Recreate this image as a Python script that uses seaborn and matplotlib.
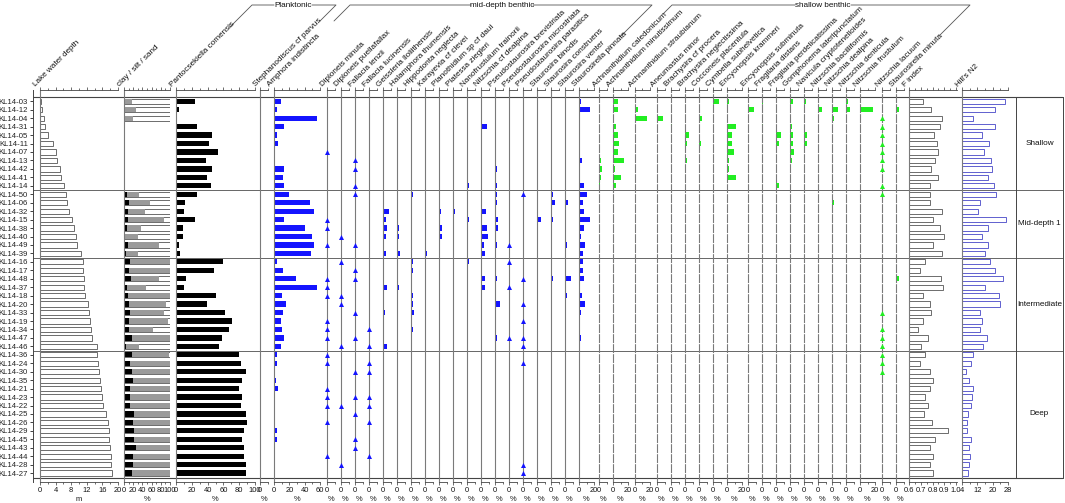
import numpy as np
import pandas as pd
import matplotlib
matplotlib.use("Agg")
import matplotlib.pyplot as plt
from matplotlib.ticker import FixedLocator, NullFormatter
import seaborn as sns

sns.set_theme(style="white")
plt.rcParams['font.family'] = ['Liberation Sans', 'DejaVu Sans']

R = -1  # taxon present at trace level (drawn as a triangle)

samples = ["KL14-03", "KL14-12", "KL14-04", "KL14-31", "KL14-05", "KL14-11", "KL14-07", "KL14-13", "KL14-42", "KL14-41", "KL14-14",
           "KL14-50", "KL14-06", "KL14-32", "KL14-15", "KL14-38", "KL14-40", "KL14-49", "KL14-39",
           "KL14-16", "KL14-17", "KL14-48", "KL14-37", "KL14-18", "KL14-20", "KL14-33", "KL14-19", "KL14-34", "KL14-47", "KL14-46",
           "KL14-36", "KL14-24", "KL14-30", "KL14-35", "KL14-21", "KL14-23", "KL14-22", "KL14-25", "KL14-26", "KL14-29", "KL14-45",
           "KL14-43", "KL14-44", "KL14-28", "KL14-27"]
zones = ["Shallow", "Mid-depth 1", "Intermediate", "Deep"]
zone_sizes = [11, 8, 11, 15]

nan = np.nan
lake_depth = [0.25, 0.6, 0.9, 1.4, 2.0, 3.4, 4.0, 4.3, 5.0, 5.5, 6.1,
              6.6, 6.9, 7.4, 8.3, 8.6, 9.3, 9.6, 10.5,
              10.9, 11.1, 11.3, 11.4, 11.5, 12.3, 12.5, 12.9, 13.0, 13.4, 14.5,
              14.6, 14.8, 15.2, 15.4, 15.6, 15.9, 16.1, 16.9, 17.4, 17.8, 17.8, 18.0, 18.1, 18.3, 18.4]
clay = [0.5, 0.5, 0.5, nan, nan, nan, nan, nan, nan, nan, nan,
        6, 11, 8, 9, 7, 2, 9, 5,
        12, 10, 15, 7, 9, 10, 13, 11, 10, 17, 4,
        17, 14, 17, 19, 13, 14, 14, 22, 20, 22, 22, 25, 20, 19, 17]
silt = [16, 26, 18.5, nan, nan, nan, nan, nan, nan, nan, nan,
        27, 46, 38, 78, 31, 28, 66, 25,
        88, 89, 60, 41, 90, 81, 74, 84, 54, 83, 29,
        81, 85, 82, 80, 86, 85, 85, 77, 79, 77, 77, 74, 79, 80, 82]
sand = [83.5, 73.5, 81, nan, nan, nan, nan, nan, nan, nan, nan,
        67, 43, 54, 13, 62, 70, 25, 70,
        0, 1, 25, 52, 1, 9, 13, 5, 36, 0, 67,
        2, 1, 1, 1, 1, 1, 1, 1, 1, 1, 1, 1, 1, 1, 1]

pantocsekiella_comensis = [24, 3.4, 0.8, 26, 45, 42, 53, 38, 45, 39, 44,
                           27, 11, 10, 24, 9, 9, 4, 5,
                           60, 48, 13, 10, 50, 39, 62, 71, 67, 58, 54,
                           80, 82, 89, 83, 80, 83, 82, 88, 90, 86, 83, 86, 86, 89, 89]
stephanodiscus_cf_parvus = [0, 0, 0, 0, 0, 0, 0, 0, 0, 0, 0.4,
                            0, 0, 0, 0, 0, 0, 0, 0,
                            0, 0, 0, 0, 0, 0, 0, 0, 0, 0, 0,
                            0, 0, 0, 0.6, 0, 0, 0.8, 0, 0, 1.2, 0, 0, 0, 0, 0]
amphora_indistincta = [9, 4, 56.5, 13, 4, 5.5, 1.5, 1.5, 13, 12, 12.6,
                       20, 47, 52.6, 12.6, 40, 49.6, 52, 48.7,
                       4.3, 12, 28.7, 55.6, 10, 15, 12, 9, 10, 13, 9,
                       4, 4.3, 1.7, 2.6, 4.8, 1.3, 1.7, 1.3, 1.3, 4, 4, 1.3, 1.3, 1, 1]

# mid-depth benthic
diploneis_minuta = [0, 0, 0, 0, 0, 0, R, 0, 0, 0, 0,
                    0, 0, 0, R, R, 0, R, 0,
                    0, 0, R, R, R, 0, 0, R, R, R, 0,
                    R, R, 0, 0, R, R, R, 0, R, 0, 0, 0, R, 0, 0]
diploneis_puellafallax = [0, 0, 0, 0, 0, 0, 0, 0, 0, 0, 0,
                          0, 0, 0, 0, 0, R, 0, 0,
                          R, 0, 0, 0, R, R, 0, 0, 0, 0, R,
                          0, 0, 0, 0, 0, 0, R, 0, 0, 0, 0, 0, 0, R, 0]
fallacia_lenzii = [0, 0, 0, 0, 0, 0, 0, R, R, 0, R,
                   R, 0, 0, 0, 0, 0, R, 0,
                   0, R, R, 0, 0, 0, R, 0, 0, R, 0,
                   0, 0, R, 0, 0, R, 0, R, 0, 0, R, R, 0, 0, 0]
fallacia_lucinensis = [0, 0, 0, 0, 0, 0, 0, 0, 0, 0, 0,
                       0, 0, 0, 0, 0, 0, 0, 0,
                       0, 0, 0, 0, 0, 0, 0, 0, R, 0, R,
                       0, R, R, 0, 0, R, R, 0, R, 0, 0, 0, R, 0, 0]
geissleria = [0, 0, 0, 0, 0, 0, 0, 0, 0, 0, 0,
              0.7, 0, 7.7, 4, 5.5, 4, 0, 4,
              0.5, 0.5, 0, 4.7, 0, 1.7, 2, 0.6, 0.6, 0, 5,
              0, 0, 0, 0, 0, 0, 0, 0, 0, 0, 0, 0, 0, 0, 0]
halamphora_thumensis = [0, 0, 0.5, 0, 0, 0, 0, 0, 0, 0, 0,
                        0, 0.7, 0.7, 0, 3, 3, 0.7, 4,
                        0, 0, 0, 2, 0, 0.5, 0, 0, 0, 0, 0,
                        0, 0, 0, 0, 0, 0, 0, 0, 0, 0, 0, 0, 0, 0, 0]
hippodonta_neglecta = [0, 0, 0, 0, 0, 0, 0, 0, 0, 0, 0,
                       2.5, 0, 0, 0.7, 0, 0, 0, 0,
                       2.5, 2, 0, 0, 2.5, 2, 3.8, 0.7, 3, 0.5, 0.5,
                       0, 0.5, 0.5, 1.3, 0.5, 0, 0.5, 0.7, 0, 0, 0, 0, 0.7, 0, 0.7]
karayevia_cf_clevei = [0, 0, 0, 0, 0, 0, 0, 0, 0, 0, 0,
                       0.5, 0.5, 0.5, 0, 0.5, 1.5, 0, 2.5,
                       0, 0, 0, 0.5, 0, 0.5, 0, 0, 0, 0, 0,
                       0, 0, 0, 0, 0, 0, 0.5, 0, 0, 0, 0, 0, 0, 0, 0]
planothidium_sp = [0, 0, 0, 0, 0, 0, 0, 0, 0, 0, 0,
                   0, 0, 2, 0, 3.4, 3.4, 0, 1.5,
                   0, 0, 0, 0.5, 0.5, 0, 0, 0, 0.5, 0, 0,
                   0, 0, 0, 0, 0, 0, 0, 0, 0, 0, 0, 0, 0, 0, 0]
platessa_ziegleri = [0, 0, 0, 0, 0, 0, 0, 0, 0, 0, 0,
                     0, 1.7, 2.5, 0, 1, 1.7, 0, 1.5,
                     0, 0, 0, 0.5, 0, 0, 0, 0, 0, 0, 0,
                     0, 0, 0, 0, 0, 0, 0, 0, 0, 0, 0, 0, 0, 0, 0]
nanofrustulum_trainorii = [0, 0, 0, 0, 0, 0, 0, 0, 0, 0, 3,
                           0, 0, 0, 3, 0, 0, 0, 0,
                           3, 0.7, 1, 0.5, 0, 0.5, 0, 0, 0, 0, 0,
                           0, 0, 0, 0, 0, 0, 0, 0, 0, 0, 0, 0, 0, 0, 0]
nitzschia_cf_dealpina = [0, 0, 0, 7.3, 0, 0, 0, 0, 1.7, 0, 0,
                         1.7, 0, 6.8, 1, 8, 8.5, 3.4, 5.5,
                         0.5, 0, 5, 5.5, 0, 0.5, 0, 0, 0, 0, 1.3,
                         0.5, 0, 0, 0, 0, 0, 0, 0, 0.5, 0, 0.5, 0, 0, 0, 0]
pseudostaurosira_brevistriata = [0.6, 0.6, 0, 0.6, 0, 0, 0, 0, 2, 0, 2,
                                 3, 2, 0, 4, 4, 0, 2, 0.7,
                                 0, 1.7, 2, 0, 0, 6.4, 0, 0, 0, 2, 0,
                                 0, 0, 0, 0.5, 0, 0, 0, 0, 0, 0, 0, 0, 0, 0, 0]
pseudostaurosira_microstriata = [0, 0, 0, 0, 0, 0, 0, 0, 0, 0, 0,
                                 0, 0, 0, 0, 0, 0, R, 0,
                                 R, 0, 0, R, 0, 0, 0, 0, 0, R, 0,
                                 0, 0, 0, 0, 0, 0, 0, 0, 0, 0, 0, 0, 0, 0, 0]
pseudostaurosira_parasitica = [0, 0, 0, 0, 0, 0, 0, 0, 0, 0, 0,
                               R, 0, 0, 0, 0, 0, 0, 0,
                               0, 0, R, 0, 0, R, 0, R, 0, R, R,
                               0, R, 0, 0, 0, 0, 0, 0, 0, 0, 0, 0, 0, R, R]
staurosira_binodis = [0, 0, 0, 0, 0, 0, 0, 0, 0, 0, 0,
                      0, 0, 0, 5.5, 0, 0, 0, 0,
                      0, 0, 0, 0, 0, 0, 0, 0, 0, 0, 0,
                      0, 0, 0, 0, 0, 0, 0, 0, 0, 0, 0.5, 0, 0, 0, 0]
staurosira_construens = [0, 0, 0, 0, 0, 0, 0, 0, 0, 0.7, 0,
                         3, 5, 0, 2, 0.5, 0, 0, 0,
                         0, 0, 2, 0, 1.5, 0, 0, 0, 0, 0, 0,
                         0, 0, 0, 0, 0, 0.7, 0, 0, 0, 0, 0, 0, 0, 0, 0]
staurosira_venter = [0.5, 0, 0, 0, 0, 0, 0, 0, 0, 0, 0,
                     1.3, 4, 0, 0.7, 0, 0.5, 3, 0,
                     0.7, 1.3, 8, 0, 2, 0, 0, 0, 0, 0.7, 0,
                     0, 0, 0, 0, 0, 0, 0, 0, 0, 0, 0, 0, 0, 0, 0]
staurosirella_pinnata = [2.6, 15, 0, 0.5, 0, 1, 0.5, 4, 0.5, 0, 6.4,
                         11, 5, 6.4, 15, 6.8, 3, 8, 5.5,
                         4.7, 4.7, 6, 1.5, 4, 7.7, 2, 0, 1.7, 2.5, 1.7,
                         1, 0, 0, 0, 0, 0, 0, 0, 0, 0, 0.5, 0, 0, 0, 0]

# shallow benthic
achnanthidium_caledonicum = [0, 0, 0, 0.5, 0, 0, 0, 3, 4, 2.5, 1.5,
                             0, 0, 0, 0, 0, 0, 0, 0,
                             0, 0, 0, 0, 0, 0, 0, 0, 0, 0, 0,
                             0, 0, 0, 0, 0, 0, 0, 0, 0, 0, 0, 0, 0, 0, 0]
achnanthidium_minutissimum = [7, 6, 0, 3.7, 6.4, 8.2, 7, 15, 2.5, 10.5, 4.5,
                              0.5, 0, 0, 0, 0, 0, 0, 0,
                              0, 0, 0, 0, 0, 0, 0, 0, 0, 0, 0,
                              0, 0, 0, 0, 0, 0.5, 0, 0, 0, 0, 0, 0, 0, 0, 0.5]
achnanthidium_straubianum = [0.5, 4.5, 16, 0, 0, 0, 0, 0, 0.5, 0.5, 0,
                             0, 0, 0, 0, 0, 0, 0, 0,
                             0, 0, 0, 0, 0, 0.5, 0, 0, 0, 0, 0,
                             0, 0, 0, 0, 0, 0, 0, 0, 0, 0, 0, 0, 0, 0, 0]
aneumastus_minor = [0.5, 0, 7.3, 0, 0, 0, 0, 0, 0, 0, 0,
                    0, 0, 0, 0, 0, 0.5, 0, 0,
                    0, 0, 0, 0, 0, 0, 0, 0, 0, 0, 0,
                    0, 0, 0, 0, 0, 0, 0, 0, 0, 0, 0, 0, 0, 0, 0]
brachysira_cf_procera = [0, 0, 0, 1.5, 0, 0, 0.5, 0, 0, 0, 0,
                         0, 0, 0, 0, 0, 0, 0, 0,
                         0, 0, 0, 0, 0, 0, 0, 0, 0, 0, 0,
                         0, 0, 0, 0, 0, 0, 0, 0, 0, 0, 0, 0, 0, 0, 0]
brachysira_neglectissima = [0, 0, 0, 0, 4.5, 2, 0.5, 3, 0.5, 0, 0,
                            0, 0, 0, 0, 0, 0, 0, 0,
                            0, 0, 0, 0, 0, 0, 0, 0, 0, 0, 0,
                            0, 0, 0, 0, 0, 0, 0, 0, 0, 0, 0, 0, 0, 0, 0]
cocconeis_placentula = [0, 0, 3.4, 0.5, 0, 2.5, 0.5, 0.5, 0.5, 0.5, 0,
                        0.5, 0, 0, 0, 1.7, 0, 0.5, 0.5,
                        0, 0, 0, 0.5, 0, 0, 0, 0, 0, 0, 0.5,
                        0, 0, 0, 0, 0, 0, 0, 0, 0, 0, 0, 0, 0, 0, 0]
cymbella_subhelvetica = [7, 0, 0, 0, 0.5, 0, 0, 0, 0, 0, 0,
                         0, 0, 0, 0, 0, 0, 0, 0,
                         0, 0.5, 0, 0, 0, 0, 0, 0, 0, 0, 0,
                         0, 0, 0, 0, 0, 0, 0, 0, 0, 0, 0, 0, 0, 0, 0]
encyonopsis_krammeri = [3, 0, 0, 11.8, 7.3, 6.4, 8.8, 3.2, 3.2, 11.5, 0,
                        0.5, 0, 0, 0, 0, 0, 0.5, 0,
                        0, 0.5, 0.5, 0, 0, 0, 0, 0, 0, 0, 0,
                        0, 0.5, 0, 0.5, 0, 0, 0, 0, 0, 0, 0.5, 0, 0, 0, 0]
encyonopsis_subminuta = [0, 7, 0, 0, 0, 0, 0, 1.5, 0, 0, 0,
                         0, 0, 0, 0, 0, 0, 0, 0,
                         0, 0, 0, 0, 0, 0, 0, 0, 0, 0, 0,
                         0, 0, 0.5, 0, 0, 0, 0, 0, 0, 0, 0, 0, 0, 0, 0]
fragilaria_distans = [1.5, 0, 0, 1.5, 0, 0, 0.5, 0, 0, 0, 0,
                      0, 0, 0, 0, 0, 0, 0, 0,
                      0, 0, 0, 0, 0, 0, 0, 0, 0, 0, 0,
                      0, 0, 0, 0, 0, 0, 0, 0, 0, 0, 0, 0, 0, 0, 0]
fragilaria_perdelicatissima = [0, 0, 0, 0.5, 6.2, 4, 0, 0, 0.5, 0.5, 4,
                               0, 0, 0, 0, 0, 0, 0, 0,
                               0, 0, 0, 0, 0, 0, 0, 0, 0, 0, 0,
                               0, 0, 0, 0, 0, 0, 0, 0, 0, 0, 0, 0, 0, 0, 0]
gomphonema_lateripunctatum = [4, 0.5, 0, 2, 4, 4, 4.7, 2, 0.5, 0.5, 0,
                              0, 0, 0, 0, 0, 0, 0, 0,
                              0, 0, 0, 0, 0, 0, 0, 0, 0, 0, 0,
                              0, 0, 0, 0, 0, 0, 0, 0, 0, 0, 0, 0, 0, 0, 0]
navicula_cryptotenelloides = [2.5, 0, 0, 0, 4, 4, 0.5, 0, 0, 0, 0,
                              0, 0, 0, 0, 0, 0, 0, 0,
                              0, 0, 0, 0, 0, 0, 0, 0, 0, 0, 0,
                              0, 0, 0, 0, 0, 0, 0, 0, 0, 0, 0, 0, 0, 0, 0]
nitzschia_bacilliformis = [0, 5, 0, 0, 0, 0, 0, 0, 0, 0, 0,
                           0, 0, 0, 0, 0, 0, 0, 0,
                           0, 0, 0, 0, 0, 0, 0, 0, 0, 0, 0,
                           0, 0, 0, 0, 0, 0, 0, 0, 0, 0, 0, 0, 0, 0, 0]
nitzschia_dealpina = [0, 8, 2.5, 0, 0, 0.5, 0, 0, 0, 0, 0,
                      0.5, 2.5, 0, 0, 0, 0, 0, 0,
                      0, 0.5, 0, 0, 0, 0, 0, 0, 0, 0, 0,
                      0, 0, 0, 0, 0, 0, 0, 0, 0, 0, 0, 0, 0, 0, 0]
nitzschia_denticula = [3, 5, 0, 0, 0, 0, 0, 0, 0, 0, 0,
                       0, 0, 0, 0, 0, 0, 0, 0,
                       0, 0, 0, 0, 0, 0, 0, 0, 0, 0, 0,
                       0, 0, 0, 0, 0, 0, 0, 0, 0, 0, 0, 0, 0, 0, 0]
nitzschia_frustulum = [0, 16.7, 0, 0, 0, 0, 0, 0, 0, 0, 0,
                       0, 0, 0, 0, 0, 0, 0, 0,
                       0, 0, 0, 0, 0, 0, 0, 0, 0, 0, 0,
                       0, 0, 0, 0, 0, 0, 0, 0, 0, 0, 0, 0, 0, 0, 0]
nitzschia_lacuum = [0, 0, R, R, R, R, R, R, R, 0, R,
                    R, 0, 0, 0, 0, 0, 0, 0,
                    0, 0, 0, 0, 0, 0, R, 0, R, R, R,
                    R, R, R, 0, 0, 0, 0, 0, 0, 0, 0, 0, 0, 0, 0]
staurosirella_minuta = [0, 3.4, 0, 0, 0, 0, 0, 0, 0, 0, 0,
                        0, 0, 0, 0, 0, 0, 0, 0,
                        0, 0, 3.4, 0, 0, 0, 0, 0, 0, 0, 0,
                        0, 0, 0, 0, 0, 0, 0, 0, 0, 0, 0, 0, 0, 0, 0]

f_index = [0.72, 0.79, 0.88, 0.86, 0.81, 0.835, 0.845, 0.82, 0.79, 0.85, 0.775,
           0.775, 0.775, 0.885, 0.805, 0.86, 0.895, 0.80, 0.885,
           0.74, 0.695, 0.87, 0.89, 0.72, 0.78, 0.79, 0.72, 0.68, 0.765, 0.70,
           0.74, 0.695, 0.775, 0.805, 0.775, 0.74, 0.765, 0.725, 0.795, 0.93, 0.825, 0.775, 0.805, 0.775, 0.80]
hills_n2 = [26.3, 21.4, 9.9, 21.4, 14.3, 18.1, 15.5, 19.3, 19.8, 17.6, 20.7,
            21.7, 13.4, 12.5, 27.1, 17.6, 14.4, 17.6, 16.0,
            18.6, 21.4, 25.4, 16.0, 23.3, 24.0, 13.6, 14.4, 13.6, 17.2, 15.1,
            9.6, 8.9, 5.9, 7.7, 9.6, 9.2, 8.9, 7.1, 6.6, 6.6, 8.9, 7.7, 8.0, 7.5, 7.1]

# ------------------------------------------------------------------ layout
W, H = 1065, 503
Y_TOP, Y_BOT = 90.0, 481.5
ROW0, ROWH = 101.3, 8.45
row_of = lambda ypx: (ypx - ROW0) / ROWH
rows = np.arange(len(samples))

BLUE = "#1414ff"
GREEN = "#22ee22"
LINE = "#7a7a7a"
FS = 5.6
TFS = 5.4

fig = plt.figure(figsize=(W / 100, H / 100), dpi=100)
canvas = fig.add_axes([0, 0, 1, 1])
canvas.set_xlim(0, W)
canvas.set_ylim(H, 0)
canvas.axis("off")


def add_ax(left, width, top=Y_TOP, bot=Y_BOT):
    ax = fig.add_axes([left / W, 1 - bot / H, width / W, (bot - top) / H])
    ax.patch.set_visible(False)
    return ax


# overlay with sample axis and horizontal zone lines
ov = add_ax(33, 1063 - 33)
ov.set_xlim(0, 1)
ov.set_ylim(row_of(Y_BOT), row_of(Y_TOP))
ov.set_yticks(rows)
ov.set_yticklabels(samples, fontsize=FS)
ov.set_xticks([])
ov.tick_params(axis="y", direction="out", length=2.5, width=0.6, pad=1.2, left=True, colors="#222")
for s in ["top", "right", "bottom"]:
    ov.spines[s].set_visible(False)
ov.spines["left"].set_color("#444")
ov.spines["left"].set_linewidth(0.7)
bounds = np.cumsum(zone_sizes)[:-1] - 0.5
ov.axhline(row_of(96.5), color="#444", lw=0.8)
ov.axhline(row_of(477.5), color="#444", lw=0.8)
for b in bounds:
    ov.axhline(b, color="#666", lw=0.7)


def style_panel(ax, xmax, xmin=0, major=(0,), labels=None, minor=(), unit="%", dashed=False):
    ax.set_xlim(xmin, xmax)
    ax.set_ylim(row_of(Y_BOT), row_of(Y_TOP))
    ax.set_yticks([])
    ax.set_ylabel("")
    ax.xaxis.set_major_locator(FixedLocator(list(major)))
    ax.set_xticklabels(labels if labels is not None else [f"{m:g}" for m in major])
    ax.xaxis.set_minor_locator(FixedLocator(list(minor)))
    ax.xaxis.set_minor_formatter(NullFormatter())
    ax.tick_params(axis="x", which="both", top=True, bottom=True, labeltop=False, direction="out",
                   width=0.5, colors="#333", labelsize=TFS, pad=1.2, labelcolor="#111")
    ax.tick_params(axis="x", which="major", length=2.4)
    ax.tick_params(axis="x", which="minor", length=1.4)
    ax.spines["right"].set_visible(False)
    for s in ["top", "bottom"]:
        ax.spines[s].set_color("#444")
        ax.spines[s].set_linewidth(0.6)
    ax.spines["left"].set_color(LINE)
    ax.spines["left"].set_linewidth(0.8)
    if dashed:
        ax.spines["left"].set_linestyle((0, (7, 2)))
    ax.set_xlabel(unit, fontsize=TFS, labelpad=2, color="#111")


def bars(ax, values, color, edge=None, lw=0.0):
    v = np.array(values, dtype=float)
    bar_v = np.where(v == R, 0.0, v)
    df = pd.DataFrame({"row": rows, "value": bar_v})
    df = df.dropna()
    sns.barplot(data=df, x="value", y="row", orient="h", native_scale=True, color=color,
                saturation=1, width=0.62, errorbar=None, ax=ax,
                edgecolor=edge if edge else color, linewidth=lw)
    rare = rows[v == R]
    if len(rare):
        sns.scatterplot(x=np.zeros(len(rare)), y=rare, marker="^", color=color, s=13,
                        linewidth=0, ax=ax, legend=False, zorder=5, clip_on=False)


def col_label(x, text):
    canvas.text(x - 4, 86.5, text, rotation=45, rotation_mode="anchor", ha="left", va="baseline",
                fontsize=5.9, color="#111")


# Lake water depth
ax = add_ax(40, 78)
bars(ax, lake_depth, "white", edge="#555", lw=0.6)
style_panel(ax, 20, major=range(0, 21, 4), minor=range(2, 20, 4), unit="m")
col_label(40, "Lake water depth")

# clay / silt / sand
ax = add_ax(124, 46)
total = [c + s + d for c, s, d in zip(clay, silt, sand)]
bars(ax, total, "white", edge="#555", lw=0.6)
bars(ax, [c + s for c, s in zip(clay, silt)], "#9a9a9a")
bars(ax, clay, "black")
style_panel(ax, 100, major=range(0, 101, 20), minor=range(10, 100, 20))
col_label(124, "clay / silt / sand")

# Pantocsekiella
ax = add_ax(176, 79)
bars(ax, pantocsekiella_comensis, "black")
style_panel(ax, 100, major=range(0, 101, 20), minor=range(10, 100, 20))
col_label(176, "Pantocsekiella comensis")

ax = add_ax(260, 8)
bars(ax, stephanodiscus_cf_parvus, "black")
style_panel(ax, 10, major=[0], minor=[10])
col_label(260, "Stephanodiscus cf parvus")

ax = add_ax(274, 46)
bars(ax, amphora_indistincta, BLUE)
style_panel(ax, 60, major=[0, 20, 40, 60], minor=[10, 30, 50])
col_label(274, "Amphora indistincta")

mid = [("Diploneis minuta", diploneis_minuta), ("Diploneis puellafallax", diploneis_puellafallax),
       ("Fallacia lenzii", fallacia_lenzii), ("Fallacia lucinensis", fallacia_lucinensis),
       ("Geissleria lloliithensis", geissleria), ("Halamphora thumensis", halamphora_thumensis),
       ("Hippodonta neglecta", hippodonta_neglecta), ("Karayevia cf clevei", karayevia_cf_clevei),
       ("Planothidium sp cf daui", planothidium_sp), ("Platessa ziegleri", platessa_ziegleri),
       ("Nanofrustulum trainorii", nanofrustulum_trainorii), ("Nitzschia cf dealpina", nitzschia_cf_dealpina),
       ("Pseudostaurosira brevistriata", pseudostaurosira_brevistriata),
       ("Pseudostaurosira microstriata", pseudostaurosira_microstriata),
       ("Pseudostaurosira parasitica", pseudostaurosira_parasitica), ("Staurosira binodis", staurosira_binodis),
       ("Staurosira construens", staurosira_construens), ("Staurosira venter", staurosira_venter),
       ("Staurosirella pinnata", staurosirella_pinnata)]
for k, (name, vals) in enumerate(mid):
    left = 327 + 14 * k
    wide = name == "Staurosirella pinnata"
    ax = add_ax(left, 15 if wide else 8)
    bars(ax, vals, BLUE)
    if wide:
        style_panel(ax, 20, major=[0, 20], minor=[10])
    else:
        style_panel(ax, 10, major=[0], minor=[10])
    col_label(left, name)

shallow = [("Achnanthidium caledonicum", achnanthidium_caledonicum, 599, False),
           ("Achnanthidium minutissimum", achnanthidium_minutissimum, 613, True),
           ("Achnanthidium straubianum", achnanthidium_straubianum, 635, True),
           ("Aneumastus minor", aneumastus_minor, 657, False),
           ("Brachysira cf procera", brachysira_cf_procera, 671, False),
           ("Brachysira neglectissima", brachysira_neglectissima, 685, False),
           ("Cocconeis placentula", cocconeis_placentula, 699, False),
           ("Cymbella subhelvetica", cymbella_subhelvetica, 713, False),
           ("Encyonopsis krammeri", encyonopsis_krammeri, 727, True),
           ("Encyonopsis subminuta", encyonopsis_subminuta, 748, False),
           ("Fragilaria distans", fragilaria_distans, 762, False),
           ("Fragilaria perdelicatissima", fragilaria_perdelicatissima, 776, False),
           ("Gomphonema lateripunctatum", gomphonema_lateripunctatum, 790, False),
           ("Navicula cryptotenelloides", navicula_cryptotenelloides, 804, False),
           ("Nitzschia bacilliformis", nitzschia_bacilliformis, 818, False),
           ("Nitzschia dealpina", nitzschia_dealpina, 832, False),
           ("Nitzschia denticula", nitzschia_denticula, 846, False),
           ("Nitzschia frustulum", nitzschia_frustulum, 860, True),
           ("Nitzschia lacuum", nitzschia_lacuum, 882, False),
           ("Staurosirella minuta", staurosirella_minuta, 896, False)]
for name, vals, left, wide in shallow:
    ax = add_ax(left, 15 if wide else 8)
    bars(ax, vals, GREEN)
    if wide:
        style_panel(ax, 20, major=[0, 20], minor=[10], dashed=True)
    else:
        style_panel(ax, 10, major=[0], minor=[10], dashed=True)
    col_label(left, name)

# F index
ax = add_ax(909, 48)
df = pd.DataFrame({"row": rows, "value": f_index})
sns.barplot(data=df, x="value", y="row", orient="h", native_scale=True, color="white", saturation=1,
            width=0.62, errorbar=None, ax=ax, edgecolor="#555", linewidth=0.6)
style_panel(ax, 1.0085, xmin=0.6, major=[0.6, 0.7, 0.8, 0.9, 1.0],
            labels=["0.6", "0.7", "0.8", "0.9", "1.0"], minor=[0.65, 0.75, 0.85, 0.95], unit="")
col_label(909, "F index")

# Hill's N2
ax = add_ax(962, 46)
df = pd.DataFrame({"row": rows, "value": hills_n2})
sns.barplot(data=df, x="value", y="row", orient="h", native_scale=True, color="white", saturation=1,
            width=0.62, errorbar=None, ax=ax, edgecolor="#4646c8", linewidth=0.6)
style_panel(ax, 28, xmin=4, major=[4, 12, 20, 28], minor=[8, 16, 24], unit="")
col_label(962, "Hill's N2")

# zone column
zx = add_ax(1016, 47, top=96.5, bot=477.5)
zx.set_xlim(0, 1)
zx.set_ylim(row_of(477.5), row_of(96.5))
zx.set_xticks([])
zx.set_yticks([])
for s in ["top", "bottom"]:
    zx.spines[s].set_visible(False)
for s in ["left", "right"]:
    zx.spines[s].set_color("#444")
    zx.spines[s].set_linewidth(0.7)
starts = np.concatenate([[0], np.cumsum(zone_sizes)[:-1]])
for z, st, n in zip(zones, starts, zone_sizes):
    zx.text(0.5, st + (n - 1) / 2, z, ha="center", va="center", fontsize=FS + 0.3, color="#111")

# group brackets
GC = "#555"


def bracket(x_left_low, y_left_low, x_top_left, x_top_right, x_right_low, y_right_low, text, tx, gap):
    canvas.plot([x_left_low, x_top_left, tx - gap], [y_left_low, 5, 5], color=GC, lw=0.6)
    canvas.plot([tx + gap, x_top_right, x_right_low], [5, 5, y_right_low], color=GC, lw=0.6)
    canvas.text(tx, 5, text, ha="center", va="center", fontsize=FS + 0.3, color="#111")


bracket(230, 27, 252, 336, 320, 21, "Planktonic", 293, 19)
bracket(334, 21, 350, 652, 620, 37, "mid-depth benthic", 502, 31)
bracket(663, 14, 672, 970, 940, 35, "shallow benthic", 823, 28)

fig.savefig("out.png", dpi=100)
